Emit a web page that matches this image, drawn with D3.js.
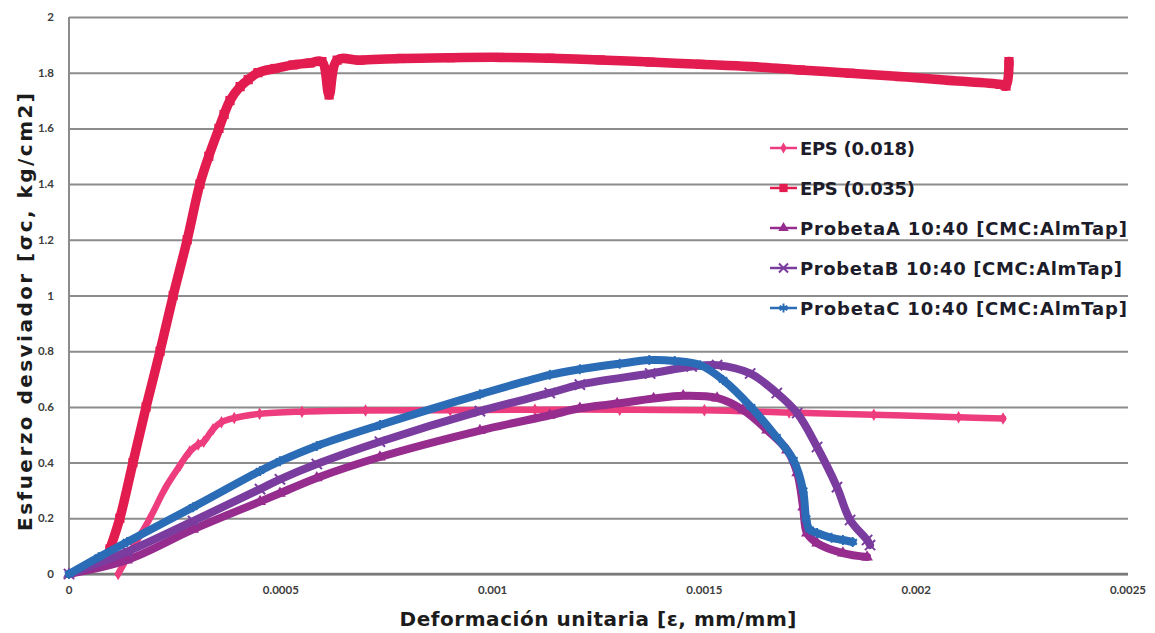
<!DOCTYPE html>
<html>
<head>
<meta charset="utf-8">
<script src="https://cdn.jsdelivr.net/npm/d3@7"></script>
<style>
  body { margin: 0; background: #fff; }
  .grid line { stroke: #8c8c8c; stroke-width: 2; }
  .tick-label { font-family: Lato, "DejaVu Sans", sans-serif; font-weight: 700; font-size: 11.5px; fill: #3c3c3c; }
  .axis-title { font-family: "DejaVu Sans", sans-serif; font-weight: 700; fill: #1c1c1c; }
  .legend text { font-family: "DejaVu Sans", sans-serif; font-weight: 700; font-size: 18px; fill: #1c1c2a; }
</style>
</head>
<body>
<div id="chart"></div>
<script>
// tick values and labels
const xTicks = [0, 0.0005, 0.001, 0.0015, 0.002, 0.0025];
const xTickLabels = ["0", "0.0005", "0.001", "0.0015", "0.002", "0.0025"];
const yTicks = [0, 0.2, 0.4, 0.6, 0.8, 1, 1.2, 1.4, 1.6, 1.8, 2];
const yTickLabels = ["0", "0.2", "0.4", "0.6", "0.8", "1", "1.2", "1.4", "1.6", "1.8", "2"];

const seriesNames = [
  "EPS (0.018)",
  "EPS (0.035)",
  "ProbetaA 10:40 [CMC:AlmTap]",
  "ProbetaB 10:40 [CMC:AlmTap]",
  "ProbetaC 10:40 [CMC:AlmTap]"
];

// [strain, stress]
const eps018 = [
  [0.000116, 0.0], [0.000153, 0.1], [0.000191, 0.2], [0.000228, 0.31], [0.000262, 0.39],
  [0.000285, 0.44], [0.000305, 0.465], [0.000318, 0.475], [0.00034, 0.52], [0.00036, 0.545],
  [0.00039, 0.56], [0.00045, 0.575], [0.00055, 0.583], [0.0007, 0.587], [0.0009, 0.588],
  [0.0011, 0.59], [0.0013, 0.59], [0.0015, 0.588], [0.0017, 0.58], [0.0019, 0.572],
  [0.0021, 0.563], [0.002205, 0.558]
];
const eps035 = [
  [0.0000968, 0.09], [0.00012, 0.2], [0.000151, 0.4], [0.000182, 0.6], [0.000215, 0.8],
  [0.000246, 1.0], [0.000279, 1.2], [0.000309, 1.4], [0.00033, 1.5], [0.000354, 1.6],
  [0.000366, 1.65], [0.00038, 1.7], [0.000404, 1.75], [0.000423, 1.775], [0.000446, 1.8],
  [0.000486, 1.815], [0.000529, 1.828], [0.000569, 1.835], [0.000597, 1.84], [0.000614, 1.72],
  [0.000633, 1.845], [0.000687, 1.845], [0.000781, 1.851], [0.0009, 1.854], [0.001017, 1.855],
  [0.001135, 1.852], [0.001254, 1.846], [0.001372, 1.838], [0.00149, 1.83], [0.001608, 1.822],
  [0.001726, 1.81], [0.001844, 1.798], [0.001962, 1.786], [0.00208, 1.772], [0.002198, 1.758],
  [0.002212, 1.752], [0.002219, 1.84]
];
const probetaA = [
  [0, 0], [0.000137, 0.05], [0.000293, 0.16], [0.000451, 0.26], [0.000498, 0.29],
  [0.000585, 0.345], [0.000734, 0.42], [0.00097, 0.515], [0.001135, 0.57], [0.001206, 0.595],
  [0.001294, 0.612], [0.00138, 0.63], [0.00145, 0.64], [0.00153, 0.632], [0.001591, 0.589],
  [0.001648, 0.517], [0.001695, 0.445], [0.001719, 0.363], [0.001733, 0.24], [0.001742, 0.147],
  [0.001766, 0.111], [0.001827, 0.075], [0.001884, 0.061]
];
const probetaB = [
  [0, 0], [0.000137, 0.08], [0.000293, 0.19], [0.000451, 0.305], [0.000498, 0.34],
  [0.000585, 0.395], [0.000734, 0.475], [0.00097, 0.585], [0.001135, 0.65], [0.001206, 0.68],
  [0.001372, 0.72], [0.00147, 0.745], [0.00153, 0.75], [0.001608, 0.72], [0.001671, 0.65],
  [0.001719, 0.578], [0.001766, 0.456], [0.001813, 0.312], [0.001844, 0.194], [0.001884, 0.122],
  [0.001891, 0.104]
];
const probetaC = [
  [0, 0], [0.00007, 0.06], [0.000137, 0.115], [0.000293, 0.24], [0.000451, 0.37],
  [0.000498, 0.405], [0.000585, 0.46], [0.000734, 0.535], [0.00097, 0.645], [0.001135, 0.715],
  [0.001206, 0.735], [0.0013, 0.755], [0.00137, 0.768], [0.00143, 0.765], [0.00149, 0.75],
  [0.001544, 0.697], [0.00161, 0.6], [0.00167, 0.492], [0.00171, 0.41], [0.001733, 0.30],
  [0.00174, 0.2], [0.001748, 0.16], [0.001766, 0.147], [0.0018, 0.13], [0.001827, 0.122],
  [0.00185, 0.115]
];

const seriesData = [eps018, eps035, probetaA, probetaB, probetaC];

const styles = [
  { color: "#ee3d7e", width: 6.5, symbol: d3.symbolDiamond, size: 45, fill: true },
  { color: "#e31c50", width: 9.5, symbol: d3.symbolSquare, size: 85, fill: true },
  { color: "#962c8e", width: 8, symbol: d3.symbolTriangle, size: 60, fill: true },
  { color: "#7a3c9e", width: 8, symbol: d3.symbolX, size: 70, fill: false },
  { color: "#2b6cb6", width: 8, symbol: d3.symbolAsterisk, size: 70, fill: false }
];

const W = 1155, H = 633;
const plotLeft = 69, plotRight = 1128, plotTop = 17, plotBottom = 574;

const svg = d3.select("#chart").append("svg")
  .attr("width", W)
  .attr("height", H);

svg.append("rect").attr("width", W).attr("height", H).attr("fill", "#fff");

const xScale = d3.scaleLinear().domain([0, 0.0025]).range([plotLeft, plotRight]);
const yScale = d3.scaleLinear().domain([0, 2]).range([plotBottom, plotTop]);

// horizontal grid
svg.append("g")
  .attr("class", "grid")
  .attr("transform", `translate(${plotLeft}, 0)`)
  .call(d3.axisLeft(yScale).tickValues(yTicks).tickSize(-(plotRight - plotLeft)).tickFormat(""))
  .call(g => g.select(".domain").remove());

// left axis line
svg.append("line")
  .attr("x1", plotLeft).attr("x2", plotLeft)
  .attr("y1", plotTop).attr("y2", plotBottom)
  .attr("stroke", "#8c8c8c").attr("stroke-width", 2);

// bottom axis line
svg.append("line")
  .attr("x1", plotLeft).attr("x2", plotRight)
  .attr("y1", plotBottom).attr("y2", plotBottom)
  .attr("stroke", "#7a7a7a").attr("stroke-width", 2.5);

// tick labels
svg.append("g").selectAll("text")
  .data(yTicks)
  .enter().append("text")
  .attr("class", "tick-label")
  .attr("x", plotLeft - 15)
  .attr("y", d => yScale(d) + 4)
  .attr("text-anchor", "end")
  .text((d, i) => yTickLabels[i]);

svg.append("g").selectAll("text")
  .data(xTicks)
  .enter().append("text")
  .attr("class", "tick-label")
  .attr("x", d => xScale(d))
  .attr("y", plotBottom + 20)
  .attr("text-anchor", "middle")
  .text((d, i) => xTickLabels[i]);

// axis titles
svg.append("text")
  .attr("class", "axis-title")
  .attr("x", 598)
  .attr("y", 626)
  .attr("text-anchor", "middle")
  .attr("font-size", 20)
  .attr("textLength", 397)
  .text("Deformación unitaria [ε, mm/mm]");

svg.append("text")
  .attr("class", "axis-title")
  .attr("transform", "translate(32, 312) rotate(-90)")
  .attr("text-anchor", "middle")
  .attr("font-size", 20)
  .attr("textLength", 438)
  .text("Esfuerzo desviador [σc, kg/cm2]");

// series
const line = d3.line()
  .x(d => xScale(d[0]))
  .y(d => yScale(d[1]))
  .curve(d3.curveCatmullRom.alpha(0.5));

const plot = svg.append("g");

seriesData.forEach((data, i) => {
  const st = styles[i];
  const g = plot.append("g");
  g.append("path")
    .datum(data)
    .attr("d", line)
    .attr("fill", "none")
    .attr("stroke", st.color)
    .attr("stroke-width", st.width)
    .attr("stroke-linejoin", "round")
    .attr("stroke-linecap", "round");
  g.selectAll("path.marker")
    .data(data)
    .enter().append("path")
    .attr("class", "marker")
    .attr("transform", d => `translate(${xScale(d[0])}, ${yScale(d[1])})`)
    .attr("d", d3.symbol().type(st.symbol).size(st.size))
    .attr("fill", st.fill ? st.color : "none")
    .attr("stroke", st.color)
    .attr("stroke-width", st.fill ? 0 : 2);
});

// legend
const legend = svg.append("g").attr("class", "legend");
seriesNames.forEach((name, i) => {
  const st = styles[i];
  const y = 148 + i * 40;
  legend.append("line")
    .attr("x1", 770).attr("x2", 797)
    .attr("y1", y).attr("y2", y)
    .attr("stroke", st.color).attr("stroke-width", 2.5);
  legend.append("path")
    .attr("transform", `translate(783.5, ${y})`)
    .attr("d", d3.symbol().type(st.symbol).size(st.size * 0.8))
    .attr("fill", st.fill ? st.color : "none")
    .attr("stroke", st.color)
    .attr("stroke-width", st.fill ? 0 : 2);
  const t = legend.append("text")
    .attr("x", 800)
    .attr("y", y + 7)
    .text(name);
  if (i >= 2) t.attr("textLength", i === 3 ? 322 : 327);
  else t.attr("textLength", 115);
});
</script>
</body>
</html>
